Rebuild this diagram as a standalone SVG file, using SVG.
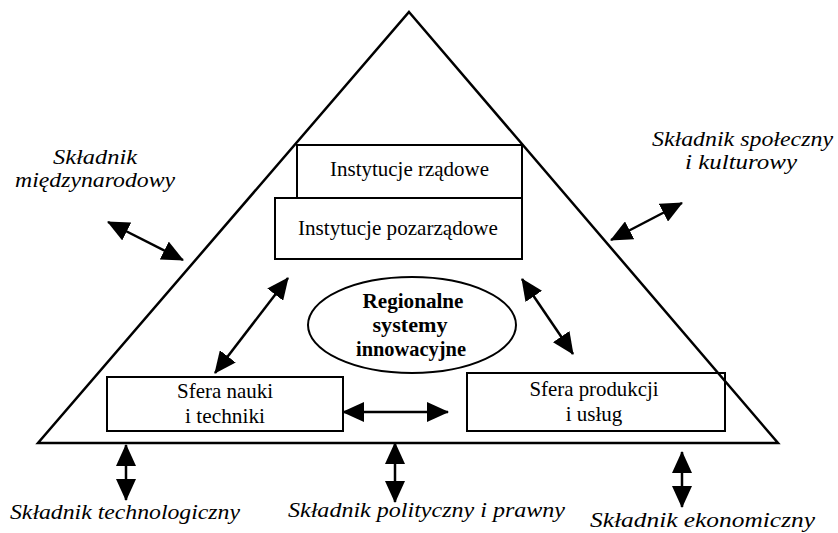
<svg xmlns="http://www.w3.org/2000/svg" width="838" height="533" viewBox="0 0 838 533">
  <defs>
    <marker id="head" viewBox="0 0 22 20" refX="21" refY="10" markerWidth="22" markerHeight="20" markerUnits="userSpaceOnUse" orient="auto-start-reverse">
      <path d="M0,0 L22,10 L0,20 z" fill="#000"/>
    </marker>
    <style>
      .frame { fill: none; stroke: #000; stroke-width: 2.5; stroke-linejoin: miter; }
      .box { fill: #fff; stroke: #000; stroke-width: 2; }
      .box-open { fill: none; stroke: #000; stroke-width: 2; }
      .label { font-family: "Liberation Serif", "Times New Roman", serif; font-size: 21px; fill: #000; text-anchor: middle; }
      .core { font-family: "Liberation Serif", "Times New Roman", serif; font-size: 21px; font-weight: bold; fill: #000; text-anchor: middle; }
      .factor { font-family: "Liberation Serif", "Times New Roman", serif; font-size: 22px; font-style: italic; fill: #000; }
      .factor.stack { font-size: 20px; }
      .link { stroke: #000; stroke-width: 2.5; fill: none; marker-start: url(#head); marker-end: url(#head); }
    </style>
  </defs>

  <rect width="838" height="533" fill="#fff"/>

  <!-- government institutions (top box, partly covered by the box below) -->
  <g id="instytucje-rzadowe">
    <rect class="box" x="297" y="145" width="225" height="53"/>
    <text class="label" x="409.5" y="176" textLength="159" lengthAdjust="spacingAndGlyphs">Instytucje rządowe</text>
  </g>

  <!-- non-governmental institutions -->
  <g id="instytucje-pozarzadowe">
    <rect class="box" x="275" y="198" width="247" height="61"/>
    <text class="label" x="398" y="235" textLength="200" lengthAdjust="spacingAndGlyphs">Instytucje pozarządowe</text>
  </g>

  <!-- central ellipse -->
  <g id="regionalne-systemy">
    <ellipse cx="412" cy="325" rx="104" ry="48" fill="#fff" stroke="#000" stroke-width="2"/>
    <text class="core" x="413" y="308" textLength="101" lengthAdjust="spacingAndGlyphs">Regionalne</text>
    <text class="core" x="410" y="332" textLength="75" lengthAdjust="spacingAndGlyphs">systemy</text>
    <text class="core" x="411" y="356" textLength="110" lengthAdjust="spacingAndGlyphs">innowacyjne</text>
  </g>

  <!-- science and technology -->
  <g id="sfera-nauki">
    <rect class="box" x="107" y="377" width="236" height="54"/>
    <text class="label" x="225" y="398" textLength="96" lengthAdjust="spacingAndGlyphs">Sfera nauki</text>
    <text class="label" x="225" y="423" textLength="80" lengthAdjust="spacingAndGlyphs">i techniki</text>
  </g>

  <!-- production and services -->
  <g id="sfera-produkcji">
    <rect class="box-open" x="467" y="373" width="258" height="58"/>
    <text class="label" x="594" y="396" textLength="129" lengthAdjust="spacingAndGlyphs">Sfera produkcji</text>
    <text class="label" x="594" y="421">i usług</text>
  </g>

  <!-- outer triangle -->
  <g id="trojkat">
    <path class="frame" d="M409,12 L778,443 L38,443 Z"/>
  </g>

  <!-- outer components -->
  <g id="skladnik-miedzynarodowy">
    <text class="factor stack" x="53" y="164" textLength="84" lengthAdjust="spacingAndGlyphs">Składnik</text>
    <text class="factor stack" x="15" y="187" textLength="160" lengthAdjust="spacingAndGlyphs">międzynarodowy</text>
  </g>
  <g id="skladnik-spoleczny">
    <text class="factor stack" x="652" y="146" textLength="181" lengthAdjust="spacingAndGlyphs">Składnik społeczny</text>
    <text class="factor stack" x="685" y="169" textLength="112" lengthAdjust="spacingAndGlyphs">i kulturowy</text>
  </g>
  <g id="skladnik-technologiczny">
    <text class="factor" x="10" y="519" textLength="230" lengthAdjust="spacingAndGlyphs">Składnik technologiczny</text>
  </g>
  <g id="skladnik-polityczny">
    <text class="factor" x="288" y="517" textLength="277" lengthAdjust="spacingAndGlyphs">Składnik polityczny i prawny</text>
  </g>
  <g id="skladnik-ekonomiczny">
    <text class="factor" x="590" y="527" textLength="225" lengthAdjust="spacingAndGlyphs">Składnik ekonomiczny</text>
  </g>

  <!-- two-way connectors -->
  <g id="connectors">
    <line class="link" x1="108" y1="222" x2="183" y2="260"/>
    <line class="link" x1="682" y1="203" x2="611" y2="240"/>
    <line class="link" x1="288" y1="278" x2="215" y2="373"/>
    <line class="link" x1="522" y1="279" x2="573" y2="354"/>
    <line class="link" x1="343" y1="412" x2="448" y2="412"/>
    <line class="link" x1="126" y1="445" x2="126" y2="500"/>
    <line class="link" x1="395" y1="443" x2="395" y2="502"/>
    <line class="link" x1="682" y1="452" x2="682" y2="507"/>
  </g>
</svg>
